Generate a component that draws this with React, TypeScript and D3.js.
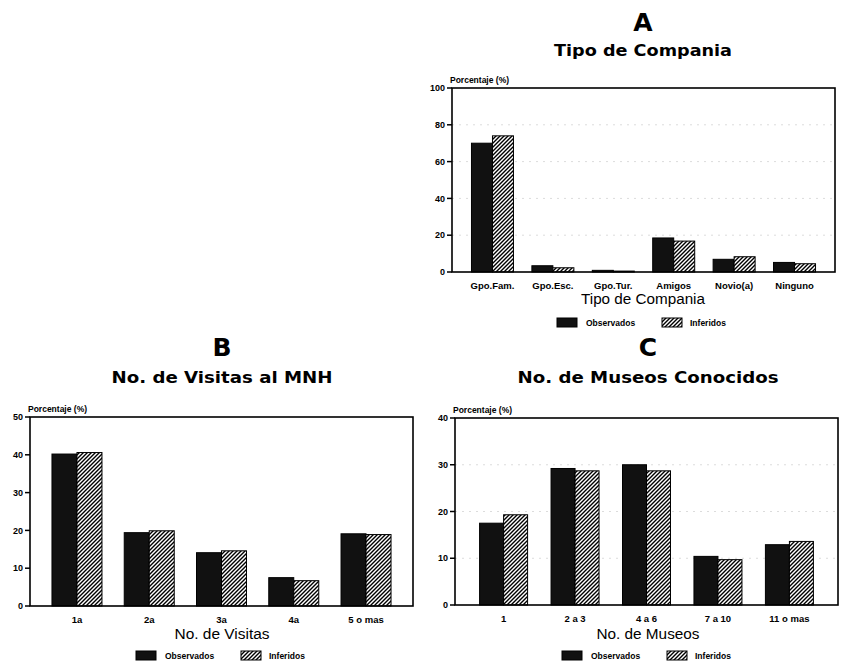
import * as d3 from "d3";

// A: Tipo de Compania
const compCats = ["Gpo.Fam.", "Gpo.Esc.", "Gpo.Tur.", "Amigos", "Novio(a)", "Ninguno"];
const compObs = [70, 3.4, 0.9, 18.5, 6.9, 5.2];
const compInf = [74, 2.3, 0.5, 16.8, 8.3, 4.5];
const compTicks = [0, 20, 40, 60, 80, 100];

// B: No. de Visitas al MNH
const visitCats = ["1a", "2a", "3a", "4a", "5 o mas"];
const visitObs = [40.2, 19.4, 14.1, 7.5, 19.1];
const visitInf = [40.6, 19.9, 14.6, 6.7, 18.9];
const visitTicks = [0, 10, 20, 30, 40, 50];

// C: No. de Museos Conocidos
const museoCats = ["1", "2 a 3", "4 a 6", "7 a 10", "11 o mas"];
const museoObs = [17.5, 29.2, 30, 10.4, 12.9];
const museoInf = [19.3, 28.7, 28.7, 9.7, 13.6];
const museoTicks = [0, 10, 20, 30, 40];

const FONT = "'Liberation Sans', Arial, sans-serif";
const WIDE = "'DejaVu Sans', Verdana, sans-serif";

interface PanelProps {
  letter: string;
  title: string;
  titleLen: number;
  xTitle: string;
  xTitleLen: number;
  cats: string[];
  obs: number[];
  inf: number[];
  ticks: number[];
  grid: number[];
  x0: number;
  x1: number;
  y0: number;
  y1: number;
  cx: number;
  barW: number;
  pad: number;
  letterY: number;
  titleY: number;
  xTitleY: number;
  legendY: number;
}

function Panel(p: PanelProps) {
  const max = p.ticks[p.ticks.length - 1];
  const y = d3.scaleLinear().domain([0, max]).range([p.y1, p.y0]);
  const x = d3.scalePoint<string>().domain(p.cats).range([p.x0, p.x1]).padding(p.pad);
  const legX = p.cx - 86;

  return (
    <g fontFamily={FONT} fill="#000">
      <text x={p.cx} y={p.letterY} textAnchor="middle" fontSize={25} fontWeight="bold" fontFamily={WIDE}>{p.letter}</text>
      <text x={p.cx} y={p.titleY} textAnchor="middle" fontSize={16} fontWeight="bold" fontFamily={WIDE}
        textLength={p.titleLen} lengthAdjust="spacingAndGlyphs">{p.title}</text>

      <text x={p.x0 - 2} y={p.y0 - 5} fontSize={8.5} fontWeight="bold">Porcentaje (%)</text>

      {p.grid.map((t) => (
        <line key={"g" + t} x1={p.x0} x2={p.x1} y1={y(t)} y2={y(t)}
          stroke="#dcdcdc" strokeWidth={1} strokeDasharray="2,5" />
      ))}

      {p.ticks.map((t) => (
        <g key={t}>
          <line x1={p.x0 - 5} x2={p.x0} y1={y(t)} y2={y(t)} stroke="#000" strokeWidth={1.5} />
          <text x={p.x0 - 7} y={y(t)} dy="0.35em" textAnchor="end" fontSize={9} fontWeight="bold">{t}</text>
        </g>
      ))}

      {p.cats.map((c, i) => {
        const cx = x(c)!;
        return (
          <g key={c}>
            <rect x={cx - p.barW} y={y(p.obs[i])} width={p.barW} height={p.y1 - y(p.obs[i])}
              fill="#111" stroke="#000" strokeWidth={1} />
            <rect x={cx} y={y(p.inf[i])} width={p.barW} height={p.y1 - y(p.inf[i])}
              fill="url(#hatch)" stroke="#000" strokeWidth={1} />
            <text x={cx} y={p.y1 + 17} textAnchor="middle" fontSize={9.5} fontWeight="bold">{c}</text>
          </g>
        );
      })}

      <rect x={p.x0} y={p.y0} width={p.x1 - p.x0} height={p.y1 - p.y0}
        fill="none" stroke="#000" strokeWidth={1.6} />

      <text x={p.cx} y={p.xTitleY} textAnchor="middle" fontSize={14}
        textLength={p.xTitleLen} lengthAdjust="spacingAndGlyphs">{p.xTitle}</text>

      <g transform={`translate(${legX},${p.legendY})`}>
        <rect x={0} y={-5} width={20} height={9} fill="#111" stroke="#000" />
        <text x={29} y={0} dy="0.35em" fontSize={8.5} fontWeight="bold">Observados</text>
        <rect x={105} y={-5} width={20} height={9} fill="url(#hatch)" stroke="#000" />
        <text x={133} y={0} dy="0.35em" fontSize={8.5} fontWeight="bold">Inferidos</text>
      </g>
    </g>
  );
}

export default function App() {
  return (
    <svg width={846} height={665} style={{ position: "absolute", left: 0, top: 0, background: "#fff" }}>
      <defs>
        <pattern id="hatch" patternUnits="userSpaceOnUse" width={4} height={4}>
          <rect width={4} height={4} fill="#fff" />
          <path d="M-1,1 l2,-2 M0,4 l4,-4 M3,5 l2,-2" stroke="#000" strokeWidth={1.4} />
        </pattern>
      </defs>

      <Panel letter="A" title="Tipo de Compania" titleLen={178}
        xTitle="Tipo de Compania" xTitleLen={124}
        cats={compCats} obs={compObs} inf={compInf} ticks={compTicks} grid={[20, 40, 60, 80]}
        x0={452} x1={835} y0={88} y1={272} cx={643} barW={21} pad={0.67}
        letterY={31} titleY={56} xTitleY={304} legendY={323} />

      <Panel letter="B" title="No. de Visitas al MNH" titleLen={221}
        xTitle="No. de Visitas" xTitleLen={95}
        cats={visitCats} obs={visitObs} inf={visitInf} ticks={visitTicks} grid={[]}
        x0={30} x1={413} y0={417} y1={606} cx={222} barW={25} pad={0.65}
        letterY={356} titleY={383} xTitleY={639} legendY={656} />

      <Panel letter="C" title="No. de Museos Conocidos" titleLen={261}
        xTitle="No. de Museos" xTitleLen={103}
        cats={museoCats} obs={museoObs} inf={museoInf} ticks={museoTicks} grid={[10, 20, 30]}
        x0={455} x1={838} y0={418} y1={605} cx={648} barW={24} pad={0.68}
        letterY={356} titleY={383} xTitleY={639} legendY={656} />
    </svg>
  );
}
